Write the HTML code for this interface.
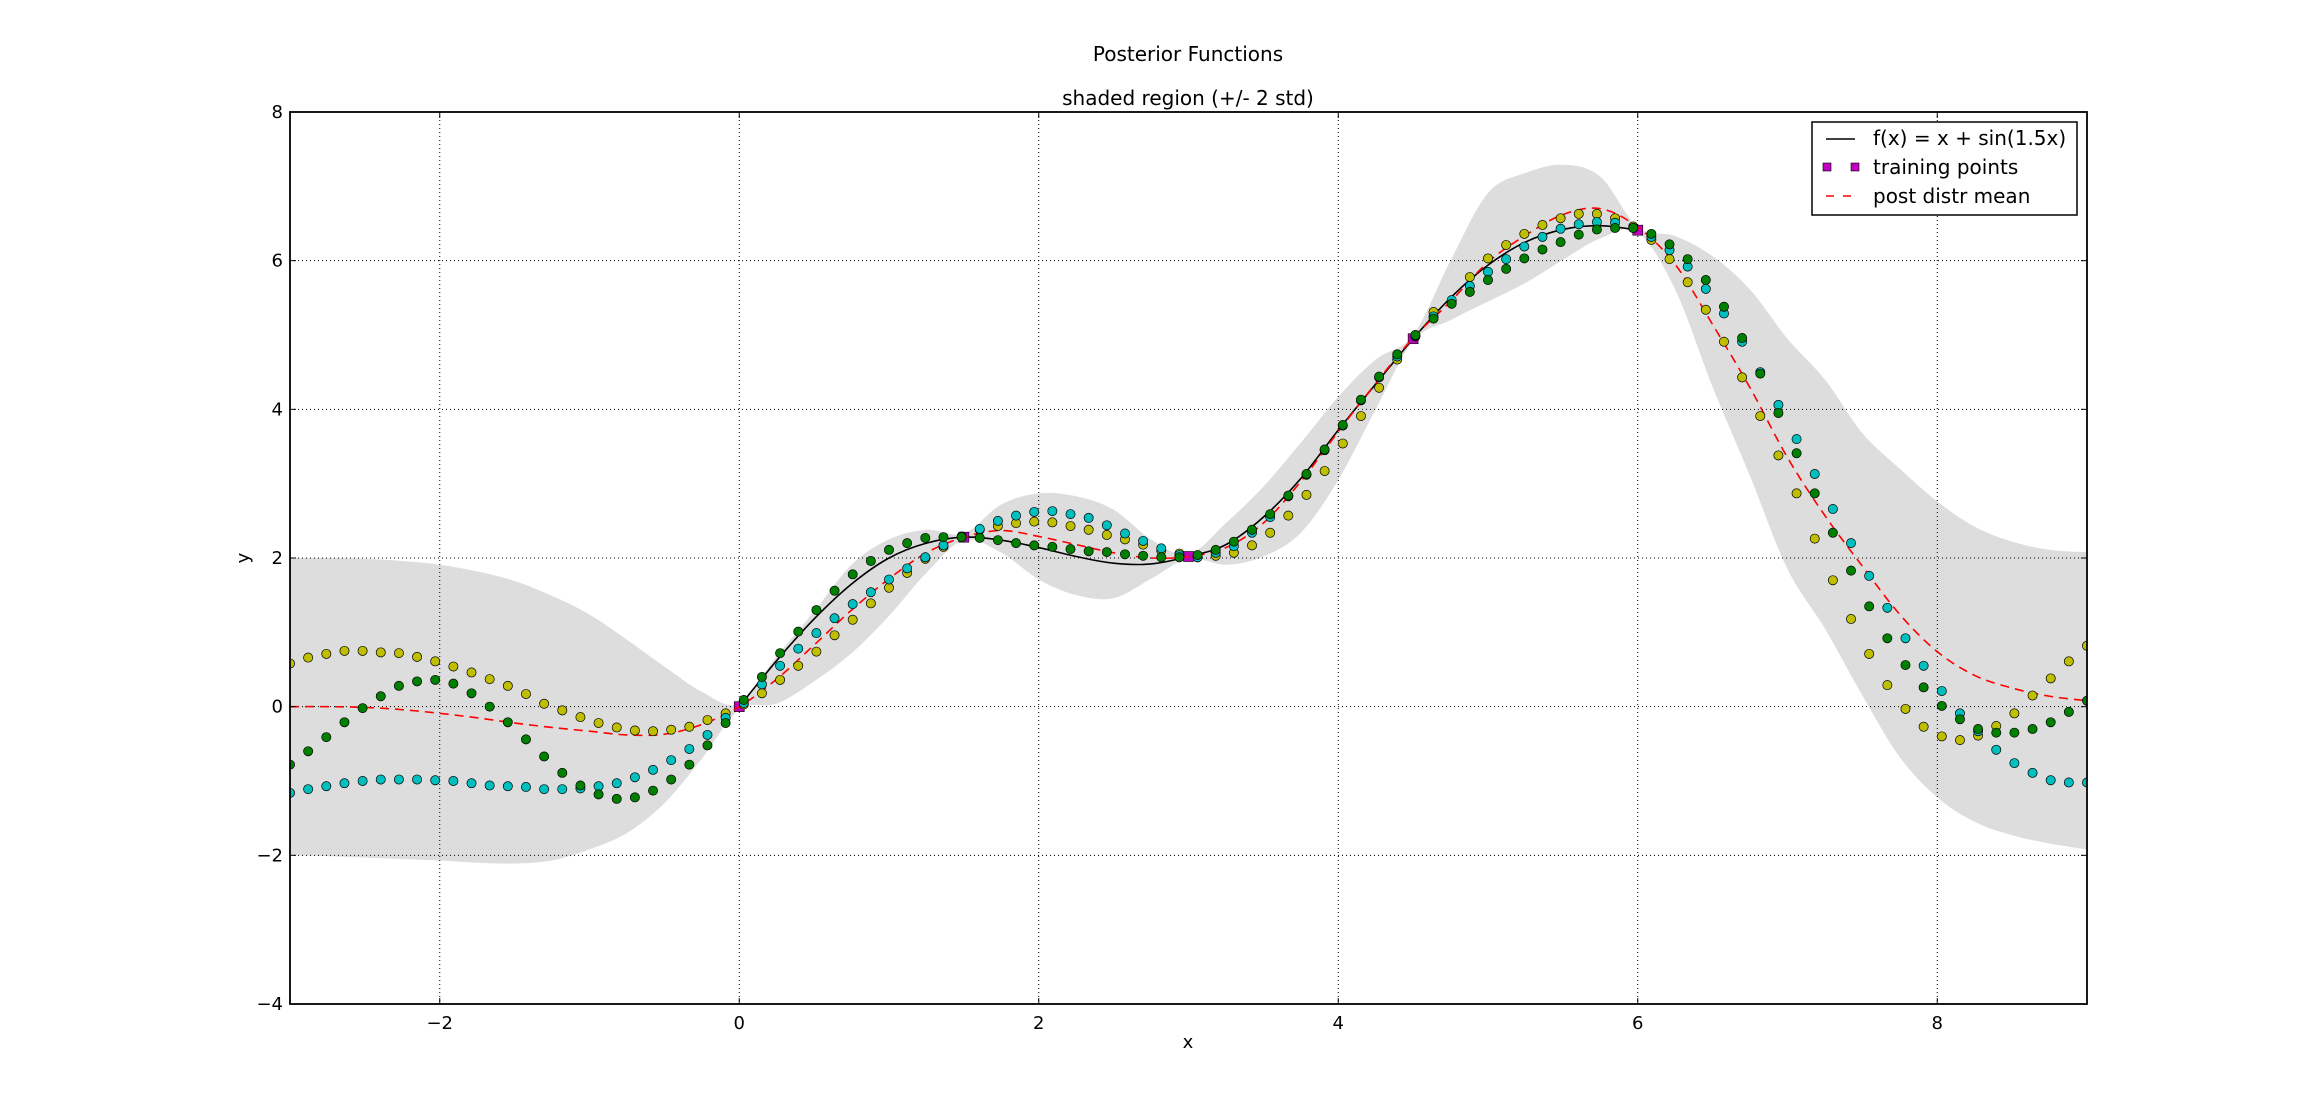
<!DOCTYPE html>
<html><head><meta charset="utf-8"><style>
html,body{margin:0;padding:0;background:#fff;}
svg text{font-family:"DejaVu Sans","Liberation Sans",sans-serif;fill:#000;}
</style></head><body>
<svg id="chart" width="2318" height="1115" xmlns="http://www.w3.org/2000/svg">
<rect width="2318" height="1115" fill="#fff"/>
<text x="1188" y="61" font-size="20" text-anchor="middle">Posterior Functions</text>
<text x="1188" y="105" font-size="20" text-anchor="middle">shaded region (+/- 2 std)</text>
<g id="plot"></g>
<text x="1188" y="1048" font-size="18" text-anchor="middle">x</text>
<text x="0" y="0" font-size="18" text-anchor="middle" transform="translate(249,558) rotate(-90)">y</text>
<g>
<rect x="1812" y="122" width="265" height="93" fill="#fff" stroke="#000" stroke-width="1.5"/>
<line x1="1826" y1="139" x2="1855" y2="139" stroke="#000" stroke-width="1.5"/>
<text x="1873" y="145" font-size="20">f(x) = x + sin(1.5x)</text>
<rect x="1823" y="163" width="8" height="8" fill="#bf00bf" stroke="#000" stroke-width="0.6"/>
<rect x="1851" y="163" width="8" height="8" fill="#bf00bf" stroke="#000" stroke-width="0.6"/>
<text x="1873" y="174" font-size="20">training points</text>
<line x1="1826" y1="196" x2="1855" y2="196" stroke="#f00" stroke-width="1.5" stroke-dasharray="8,9"/>
<text x="1873" y="203" font-size="20">post distr mean</text>
</g>
</svg>
<script>
const sampleYellow=[0.58,0.66,0.71,0.75,0.75,0.73,0.72,0.67,0.61,0.54,0.46,0.37,0.28,0.17,0.04,-0.05,-0.14,-0.22,-0.28,-0.32,-0.33,-0.31,-0.27,-0.18,-0.09,
0.03,0.18,0.36,0.55,0.74,0.96,1.17,1.39,1.60,1.80,1.99,2.15,2.28,2.38,2.43,2.47,2.49,2.48,2.43,2.38,2.31,
2.25,2.18,2.10,2.06,2.01,2.03,2.07,2.17,2.34,2.57,2.85,3.17,3.54,3.91,4.29,4.67,4.98,5.31,5.45,5.78,
6.03,6.21,6.36,6.48,6.57,6.63,6.63,6.57,6.46,6.28,6.02,5.71,5.34,4.91,4.43,3.91,3.38,2.87,
2.26,1.70,1.18,0.71,0.29,-0.03,-0.27,-0.40,-0.45,-0.39,-0.26,-0.09,0.15,0.38,0.61,0.82];
const sampleGreen=[-0.78,-0.60,-0.41,-0.21,-0.02,0.14,0.28,0.34,0.36,0.31,0.18,0.00,-0.21,-0.44,-0.67,-0.89,-1.06,-1.18,-1.24,-1.22,-1.13,-0.98,-0.78,-0.52,-0.22,
0.09,0.40,0.72,1.01,1.30,1.56,1.78,1.96,2.11,2.20,2.27,2.28,2.28,2.27,2.24,2.20,2.17,2.15,2.12,2.09,2.08,
2.05,2.03,2.01,2.01,2.04,2.11,2.22,2.38,2.59,2.84,3.13,3.46,3.79,4.13,4.44,4.74,5.00,5.22,5.42,5.58,
5.74,5.89,6.03,6.15,6.25,6.35,6.42,6.44,6.44,6.36,6.22,6.02,5.74,5.38,4.96,4.48,3.95,3.41,
2.87,2.34,1.83,1.35,0.92,0.56,0.26,0.01,-0.17,-0.30,-0.35,-0.35,-0.30,-0.21,-0.07,0.08];
const sampleCyan=[-1.16,-1.11,-1.07,-1.03,-1.00,-0.98,-0.98,-0.98,-0.99,-1.00,-1.03,-1.06,-1.07,-1.08,-1.11,-1.11,-1.10,-1.07,-1.03,-0.95,-0.85,-0.72,-0.57,-0.38,-0.15,
0.05,0.30,0.55,0.78,0.99,1.19,1.38,1.54,1.71,1.86,2.01,2.17,2.29,2.39,2.50,2.57,2.62,2.63,2.59,2.54,2.44,
2.33,2.23,2.13,2.04,2.01,2.07,2.16,2.34,2.55,2.83,3.12,3.45,3.78,4.12,4.43,4.71,4.99,5.25,5.47,5.66,
5.85,6.02,6.19,6.32,6.43,6.49,6.52,6.51,6.44,6.32,6.14,5.92,5.62,5.29,4.91,4.50,4.06,3.60,
3.13,2.66,2.20,1.76,1.33,0.92,0.55,0.21,-0.09,-0.33,-0.58,-0.76,-0.89,-0.99,-1.02,-1.02];
const gridX=[-3,-2.75,-2.5,-2.25,-2,-1.75,-1.5,-1.25,-1,-0.75,-0.5,-0.25,0,0.25,0.5,0.75,1,1.25,1.5,1.75,2,2.25,2.5,2.75,3,3.25,3.5,3.75,4,4.25,4.5,4.75,5,5.25,5.5,5.75,6,6.25,6.5,6.75,7,7.25,7.5,7.75,8,8.25,8.5,8.75,9];
const meanY=[0,0,-0.01,-0.04,-0.09,-0.15,-0.22,-0.28,-0.33,-0.38,-0.37,-0.24,0,0.37,0.83,1.30,1.72,2.07,2.28,2.37,2.29,2.18,2.07,2.0,2.02,2.14,2.47,3.03,3.70,4.35,4.96,5.45,5.98,6.34,6.62,6.70,6.45,5.95,5.14,4.29,3.35,2.57,1.89,1.24,0.74,0.42,0.25,0.14,0.08];
const upperY=[2.0,2.0,1.99,1.96,1.91,1.82,1.69,1.49,1.24,0.90,0.54,0.2,0.04,0.68,1.28,1.91,2.25,2.38,2.33,2.72,2.87,2.83,2.65,2.25,2.05,2.47,2.96,3.55,4.17,4.67,5.0,6.0,6.91,7.18,7.29,7.13,6.45,6.33,6.06,5.61,4.95,4.4,3.68,3.2,2.76,2.42,2.22,2.11,2.08];
const lowerY=[-2.0,-2.01,-2.03,-2.05,-2.07,-2.1,-2.11,-2.07,-1.92,-1.70,-1.3,-0.7,-0.04,0.04,0.34,0.72,1.22,1.80,2.24,2.07,1.71,1.50,1.46,1.72,1.99,1.91,2.02,2.34,3.05,4.0,4.92,5.2,5.45,5.70,6.01,6.30,6.38,5.61,4.30,3.1,1.85,1.05,0.15,-0.68,-1.22,-1.55,-1.73,-1.84,-1.92];
const trueX=[0,0.25,0.5,0.75,1,1.25,1.5,1.75,2,2.25,2.5,2.75,3,3.25,3.5,3.75,4,4.25,4.5,4.75,5,5.25,5.5,5.75,6];
const trueY=[0,0.62,1.18,1.65,2.0,2.2,2.28,2.24,2.14,2.02,1.93,1.92,2.02,2.18,2.55,3.07,3.72,4.34,4.95,5.50,5.94,6.25,6.42,6.47,6.41];
const trainX=[0,1.5,3,4.5,6];
const trainY=[0,2.28,2.02,4.95,6.41];
const xTicks=[-2,0,2,4,6,8];
const yTicks=[-4,-2,0,2,4,6,8];

const L=290,R=2087,T=112,B=1004,XMIN=-3,XMAX=9,YMIN=-4,YMAX=8;
const sx=v=>L+(v-XMIN)/(XMAX-XMIN)*(R-L);
const sy=v=>B-(v-YMIN)/(YMAX-YMIN)*(B-T);
const NS='http://www.w3.org/2000/svg';
const plot=document.getElementById('plot');
function mk(tag,attrs,parent){const e=document.createElementNS(NS,tag);for(const k in attrs)e.setAttribute(k,attrs[k]);(parent||plot).appendChild(e);return e;}
function smooth(pts){let d='M'+pts[0][0].toFixed(2)+','+pts[0][1].toFixed(2);
 for(let i=0;i<pts.length-1;i++){const p0=pts[i-1]||pts[i],p1=pts[i],p2=pts[i+1],p3=pts[i+2]||pts[i+1];
  const c1=[p1[0]+(p2[0]-p0[0])/6,p1[1]+(p2[1]-p0[1])/6],c2=[p2[0]-(p3[0]-p1[0])/6,p2[1]-(p3[1]-p1[1])/6];
  d+='C'+c1[0].toFixed(2)+','+c1[1].toFixed(2)+' '+c2[0].toFixed(2)+','+c2[1].toFixed(2)+' '+p2[0].toFixed(2)+','+p2[1].toFixed(2);}
 return d;}
const clip=mk('clipPath',{id:'pc'});mk('rect',{x:L,y:T,width:R-L,height:B-T},clip);
const up=gridX.map((x,i)=>[sx(x),sy(upperY[i])]);
const lo=gridX.map((x,i)=>[sx(x),sy(lowerY[i])]).reverse();
const band=mk('path',{d:smooth(up)+'L'+smooth(lo).slice(1)+'Z',fill:'#dddddd','clip-path':'url(#pc)'});


xTicks.forEach(t=>{const g=mk('line',{x1:sx(t),x2:sx(t),y1:T,y2:B,stroke:'#000','stroke-width':1,'stroke-dasharray':'1,3'});

});
yTicks.forEach(t=>{const g=mk('line',{x1:L,x2:R,y1:sy(t),y2:sy(t),stroke:'#000','stroke-width':1,'stroke-dasharray':'1,3'});

});
const tl=mk('path',{d:smooth(trueX.map((x,i)=>[sx(x),sy(trueY[i])])),fill:'none',stroke:'#000','stroke-width':1.6});


trainX.forEach((x,i)=>{const r=mk('rect',{x:sx(x)-5,y:sy(trainY[i])-5,width:10,height:10,fill:'#bf00bf',stroke:'#000','stroke-width':0.6});

});
const ml=mk('path',{d:smooth(gridX.map((x,i)=>[sx(x),sy(meanY[i])])),fill:'none',stroke:'#ff0000','stroke-width':1.6,'stroke-dasharray':'9,6','clip-path':'url(#pc)'});


const series=[[sampleYellow,'#bfbf00','sample-yellow-point'],[sampleCyan,'#00bfbf','sample-cyan-point'],[sampleGreen,'#008000','sample-green-point']];
series.forEach(([vals,col,name])=>{vals.forEach((v,i)=>{const x=XMIN+i*(XMAX-XMIN)/(vals.length-1);
 const c=mk('circle',{cx:sx(x),cy:sy(v),r:4.6,fill:col,stroke:'#000','stroke-width':0.7,'clip-path':'url(#pc)'});
 
 });});
const fr=mk('rect',{x:L,y:T,width:R-L,height:B-T,fill:'none',stroke:'#000','stroke-width':1.8});


xTicks.forEach(t=>{mk('line',{x1:sx(t),x2:sx(t),y1:B,y2:B-6,stroke:'#000','stroke-width':1});mk('line',{x1:sx(t),x2:sx(t),y1:T,y2:T+6,stroke:'#000','stroke-width':1});
 const tx=mk('text',{x:sx(t),y:B+25,'font-size':18,'text-anchor':'middle'});tx.textContent=t<0?'\u2212'+(-t):String(t);
 
 });
yTicks.forEach(t=>{mk('line',{x1:L,x2:L+6,y1:sy(t),y2:sy(t),stroke:'#000','stroke-width':1});mk('line',{x1:R,x2:R-6,y1:sy(t),y2:sy(t),stroke:'#000','stroke-width':1});
 const tx=mk('text',{x:L-7,y:sy(t)+6,'font-size':18,'text-anchor':'end'});tx.textContent=t<0?'\u2212'+(-t):String(t);
 
 });
</script>
</body></html>
